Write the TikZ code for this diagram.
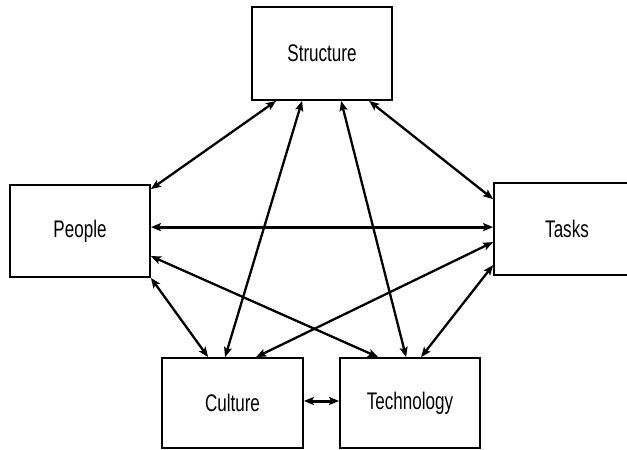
\documentclass[tikz,border=0pt]{standalone}
\usepackage{fontspec}
\setmainfont{Liberation Sans}[FakeStretch=0.71]
\usetikzlibrary{arrows.meta}
\begin{document}
\begin{tikzpicture}[x=1pt,y=-1pt,
  box/.style={draw=black,line width=1.8pt,fill=white,inner sep=0pt,
    font=\fontsize{24}{28}\selectfont},
  link/.style={line width=2.3pt,{Stealth[length=10pt,width=8pt,inset=2pt]}-{Stealth[length=10pt,width=8pt,inset=2pt]}}]
  \useasboundingbox (0,0) rectangle (627,450);
  \fill[white] (0,0) rectangle (627,450);

  % the five elements
  \node[box,minimum width=140pt,minimum height=93pt] (S) at (322,53.5) {Structure};
  \node[box,minimum width=140pt,minimum height=92pt] (P) at (80,231) {People};
  \node[box,minimum width=146pt,minimum height=92pt] (T) at (567,229) {Tasks};
  \node[box,minimum width=141pt,minimum height=90pt] (C) at (232.5,403) {Culture};
  \node[box,minimum width=140pt,minimum height=90pt] (Tc) at (410,403) {Technology};

  % relations between them
  \draw[link] ([xshift=25pt]S.south west) -- ([yshift=-5pt]P.north east);
  \draw[link] ([xshift=51pt]S.south west) -- ([xshift=64pt]C.north west);
  \draw[link] ([xshift=90pt]S.south west) -- ([xshift=67pt]Tc.north west);
  \draw[link] ([xshift=118pt]S.south west) -- ([yshift=-17pt]T.north west);
  \draw[link,line width=3pt] ([yshift=-43pt]P.north east) -- ([yshift=-45pt]T.north west);
  \draw[link] ([yshift=-72pt]P.north east) -- ([xshift=39pt]Tc.north west);
  \draw[link] ([xshift=95pt]C.north west) -- ([yshift=-60pt]T.north west);
  \draw[link] (P.south east) -- ([xshift=47pt]C.north west);
  \draw[link] ([yshift=-83pt]T.north west) -- ([xshift=82pt]Tc.north west);
  \draw[link,line width=3pt] ([yshift=2pt]C.east) -- ([yshift=2pt]Tc.west);
\end{tikzpicture}
\end{document}
